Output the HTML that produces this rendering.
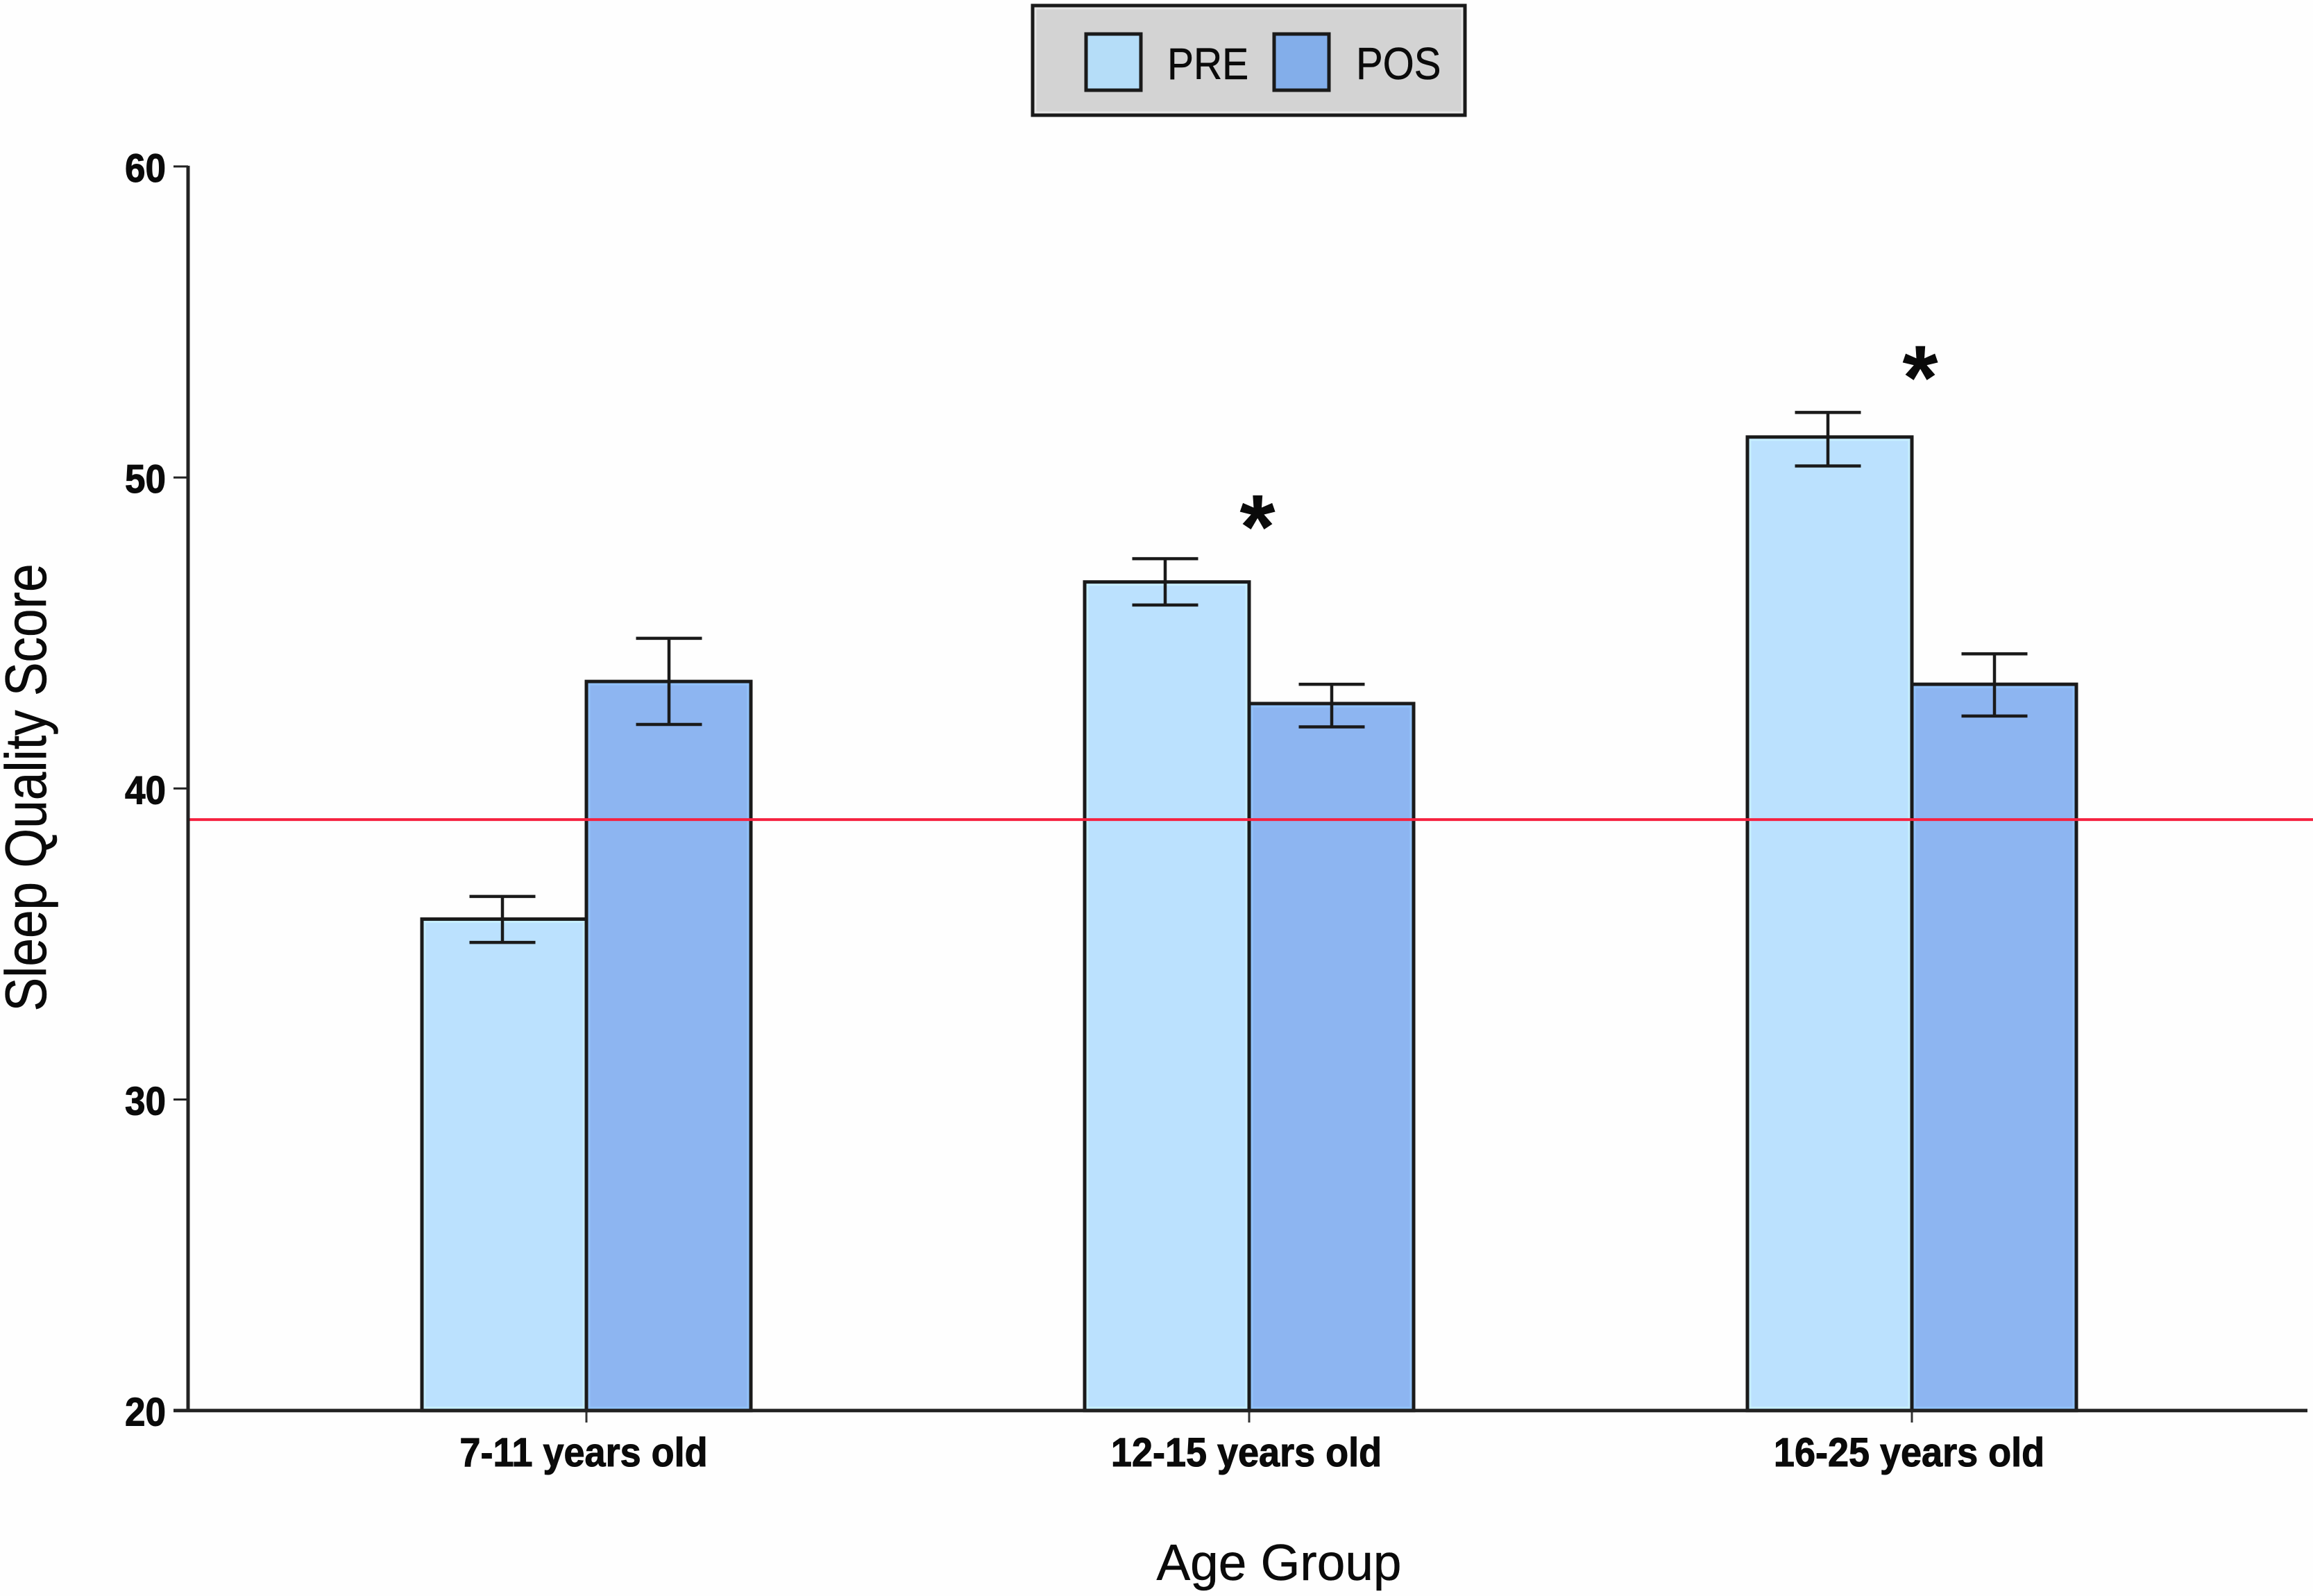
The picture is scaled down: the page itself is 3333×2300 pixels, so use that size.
<!DOCTYPE html>
<html lang="en">
<head>
<meta charset="utf-8">
<title>Sleep Quality Score by Age Group</title>
<style>
html,body{margin:0;padding:0;background:#fefefe;width:3333px;height:2300px;overflow:hidden}
svg{display:block}
text{font-family:"Liberation Sans",Arial,sans-serif;fill:#0a0a0a}
</style>
</head>
<body>
<svg id="chart" xmlns="http://www.w3.org/2000/svg" width="3333" height="2300" viewBox="0 0 3333 2300">
  <rect x="0" y="0" width="3333" height="2300" fill="#fefefe"/>
  <g id="legend">
    <rect x="1488" y="8" width="623" height="158" fill="#d3d3d3" stroke="#1a1a1a" stroke-width="5"/>
    <rect x="1492" y="12" width="615" height="150" fill="none" stroke="#e6e6e6" stroke-width="3"/>
    <g>
      <rect x="1565" y="49" width="79" height="81" fill="#b5ddf8" stroke="#1a1a1a" stroke-width="5"/>
      <text transform="translate(1682 114) scale(1 1.12)" font-size="57" stroke="#0a0a0a" stroke-width="0.5">PRE</text>
    </g>
    <g>
      <rect x="1836" y="49" width="79" height="81" fill="#83aeea" stroke="#1a1a1a" stroke-width="5"/>
      <text transform="translate(1954 114) scale(1 1.12)" font-size="58" stroke="#0a0a0a" stroke-width="0.5">POS</text>
    </g>
  </g>
  <g id="bars"></g>
  <g id="reference"></g>
  <g id="errors"></g>
  <g id="stars"></g>
  <g id="axes"></g>
  <text x="1843" y="2277" font-size="73" text-anchor="middle" stroke="#0a0a0a" stroke-width="0.5">Age Group</text>
  <text transform="translate(66 1135) rotate(-90) scale(1 1.14)" font-size="73" text-anchor="middle" stroke="#0a0a0a" stroke-width="0.5">Sleep Quality Score</text>
</svg>
<script>
const categories = ["7-11 years old", "12-15 years old", "16-25 years old"];
const preValues = [35.8, 46.64, 51.3];
const posValues = [43.44, 42.73, 43.35];
const preUpper = [36.53, 47.39, 52.09];
const preLower = [35.05, 45.9, 50.37];
const posUpper = [44.83, 43.35, 44.33];
const posLower = [42.06, 41.98, 42.33];
const starValues = [null, 49.05, 53.85];
const yTicks = [20, 30, 40, 50, 60];
const referenceValue = 39;

const NS = "http://www.w3.org/2000/svg";
const AXIS_LEFT = 271, AXIS_RIGHT = 3325, BASE_Y = 2032.7, UNIT_Y = 44.82;
const FIRST_CENTER = 845, BAND_STEP = 955, BAR_W = 237;
const INK = "#1a1a1a";

function yScale(v) { return BASE_Y - (v - 20) * UNIT_Y; }
function xScale(i) { return FIRST_CENTER + i * BAND_STEP; }
function make(tag, parent) {
  const el = document.createElementNS(NS, tag);
  parent.appendChild(el);
  return el;
}
function setAll(el, props) {
  for (const k in props) el.setAttribute(k, props[k]);
}

const barsG = document.getElementById("bars");
const errorsG = document.getElementById("errors");
const starsG = document.getElementById("stars");
const axesG = document.getElementById("axes");
const refG = document.getElementById("reference");

function drawBar(i, value, left, fill, halo, label) {
  const top = yScale(value);
  const h = BASE_Y - top;
  const r = make("rect", barsG);
  
  
  r.setAttribute('aria-label', label + ' ' + categories[i]);
  setAll(r, {x: left, y: top, width: BAR_W, height: h, fill: fill, stroke: INK, "stroke-width": 5});
  const inner = make("rect", barsG);
  
  
  setAll(inner, {x: left + 4, y: top + 4, width: BAR_W - 8, height: h - 8, fill: "none", stroke: halo, "stroke-width": 3});
}
function drawError(cx, upper, lower) {
  const yU = yScale(upper), yL = yScale(lower), capHalf = 47.5;
  const stem = make("line", errorsG);
  
  
  setAll(stem, {x1: cx, x2: cx, y1: yU, y2: yL, stroke: INK, "stroke-width": 4.5});
  const capTop = make("line", errorsG);
  
  
  setAll(capTop, {x1: cx - capHalf, x2: cx + capHalf, y1: yU, y2: yU, stroke: INK, "stroke-width": 4.5});
  const capBot = make("line", errorsG);
  
  
  setAll(capBot, {x1: cx - capHalf, x2: cx + capHalf, y1: yL, y2: yL, stroke: INK, "stroke-width": 4.5});
}

categories.forEach(function (cat, i) {
  const c = xScale(i);
  drawBar(i, preValues[i], c - BAR_W, "#bbe1fe", "#c6eeff", "PRE");
  drawBar(i, posValues[i], c, "#8db5f1", "#92c2fa", "POS");
  drawError(c - 121, preUpper[i], preLower[i]);
  drawError(c + 119, posUpper[i], posLower[i]);

  if (starValues[i] !== null) {
    const s = make("text", starsG);
    
    
    setAll(s, {x: c + 12, y: yScale(starValues[i]) + 74, "font-size": 132, "font-weight": "bold", "text-anchor": "middle"});
    s.textContent = "*";
  }

  const t = make("line", axesG);
  
  
  setAll(t, {x1: c, x2: c, y1: BASE_Y, y2: 2050, stroke: "#333", "stroke-width": 3});

  const lab = make("text", axesG);
  
  
  setAll(lab, {transform: "translate(" + (c - 4) + " 2113) scale(1 1.08)", "font-size": 54, "font-weight": "bold", "text-anchor": "middle", stroke: "#0a0a0a", "stroke-width": 1});
  lab.textContent = cat;
});

const ref = make("line", refG);


setAll(ref, {x1: AXIS_LEFT + 2, x2: 3333, y1: yScale(referenceValue), y2: yScale(referenceValue), stroke: "#f5213f", "stroke-width": 4});

yTicks.forEach(function (v) {
  const y = yScale(v);
  const t = make("line", axesG);
  
  
  setAll(t, {x1: 250, x2: AXIS_LEFT, y1: y, y2: y, stroke: "#222", "stroke-width": 3});
  const lab = make("text", axesG);
  
  
  setAll(lab, {transform: "translate(239 " + (y + 22) + ") scale(1 1.08)", "font-size": 53, "font-weight": "bold", "text-anchor": "end", stroke: "#0a0a0a", "stroke-width": 1});
  lab.textContent = String(v);
});

const yAxis = make("line", axesG);


setAll(yAxis, {x1: AXIS_LEFT, x2: AXIS_LEFT, y1: yScale(60) - 1, y2: BASE_Y + 2, stroke: "#222", "stroke-width": 5});

const xAxis = make("line", axesG);


setAll(xAxis, {x1: 250, x2: AXIS_RIGHT, y1: BASE_Y, y2: BASE_Y, stroke: "#222", "stroke-width": 5});
</script>
</body>
</html>
